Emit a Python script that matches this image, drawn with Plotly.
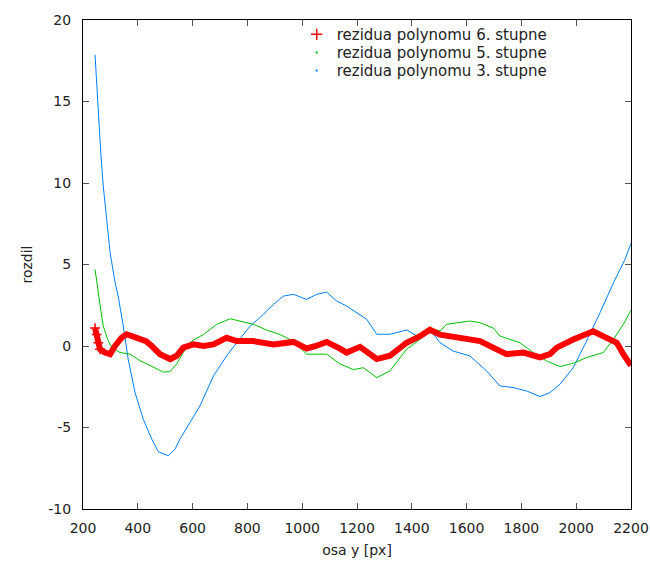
import plotly.graph_objects as go

# ---- data ----
red_x = [244, 250, 256, 262, 280, 299, 317, 340, 359, 380, 408, 430, 451, 481, 518, 542, 566, 603, 640, 676,
         724, 761, 822, 895, 968, 1016, 1050, 1089, 1138, 1162, 1211, 1240, 1272, 1320, 1381, 1430, 1466, 1503,
         1551, 1600, 1649, 1697, 1746, 1807, 1868, 1904, 1929, 1989, 2038, 2062, 2111, 2148, 2172, 2200]
red_y = [1.1, 0.7, 0.2, -0.2, -0.4, -0.5, 0.0, 0.5, 0.72, 0.6, 0.5, 0.3, 0.0, -0.5, -0.8, -0.6, -0.1, 0.1, 0.0, 0.1,
         0.5, 0.3, 0.3, 0.1, 0.25, -0.15, 0.0, 0.25, -0.16, -0.4, -0.05, -0.4, -0.8, -0.6, 0.2, 0.6, 1.0, 0.7,
         0.57, 0.4, 0.3, -0.1, -0.5, -0.4, -0.7, -0.5, -0.1, 0.4, 0.8, 0.9, 0.5, 0.2, -0.5, -1.2]

green_x = [244, 256, 265, 274, 290, 305, 335, 372, 408, 445, 493, 518, 542, 566, 597, 639, 688, 737, 773, 822,
           870, 919, 968, 1016, 1089, 1138, 1187, 1223, 1272, 1320, 1381, 1430, 1466, 1503, 1527, 1612, 1649,
           1697, 1722, 1795, 1843, 1892, 1941, 1989, 2038, 2099, 2136, 2172, 2200]
green_y = [4.7, 3.06, 2.2, 1.22, 0.4, -0.1, -0.4, -0.5, -0.9, -1.2, -1.6, -1.57, -1.1, -0.4, 0.3, 0.7, 1.33, 1.67,
           1.53, 1.33, 0.98, 0.7, 0.3, -0.5, -0.5, -1.1, -1.45, -1.33, -1.94, -1.53, -0.2, 0.41, 1.1, 0.92, 1.33,
           1.53, 1.43, 1.1, 0.61, 0.2, -0.4, -0.92, -1.26, -1.06, -0.71, -0.4, 0.41, 1.33, 2.2]

blue_x = [244, 250, 256, 265, 274, 286, 299, 317, 329, 347, 365, 390, 420, 451, 475, 511, 536, 554, 591, 627,
          676, 724, 761, 810, 858, 895, 931, 968, 1016, 1053, 1089, 1126, 1162, 1199, 1236, 1272, 1320, 1381,
          1430, 1466, 1503, 1551, 1612, 1673, 1722, 1770, 1819, 1868, 1904, 1941, 1989, 2038, 2087, 2136, 2178, 2200]
blue_y = [17.86, 15.9, 13.9, 11.84, 9.8, 7.76, 5.72, 3.9, 3.0, 1.22, -0.82, -2.86, -4.49, -5.71, -6.49, -6.73,
          -6.33, -5.71, -4.69, -3.67, -1.84, -0.61, 0.2, 1.22, 1.94, 2.55, 3.06, 3.17, 2.86, 3.17, 3.31, 2.76,
          2.45, 2.04, 1.63, 0.72, 0.72, 0.98, 0.51, 1.02, 0.2, -0.31, -0.61, -1.53, -2.45, -2.55, -2.76, -3.1,
          -2.86, -2.35, -1.33, 0.31, 2.04, 3.88, 5.31, 6.3]

names = ["rezidua polynomu 6. stupne", "rezidua polynomu 5. stupne", "rezidua polynomu 3. stupne"]
x_ticks = list(range(200, 2201, 200))
y_ticks = [-10, -5, 0, 5, 10, 15, 20]

RED, GREEN, BLUE = "#ff0000", "#00c000", "#0080ff"
FONT = "DejaVu Sans"

fig = go.Figure()
# data curves
fig.add_trace(go.Scatter(x=blue_x, y=blue_y, mode="lines", line=dict(color=BLUE, width=1),
                         showlegend=False, hoverinfo="skip"))
fig.add_trace(go.Scatter(x=green_x, y=green_y, mode="lines", line=dict(color=GREEN, width=1),
                         showlegend=False, hoverinfo="skip"))
fig.add_trace(go.Scatter(x=red_x, y=red_y, mode="lines", line=dict(color=RED, width=6),
                         showlegend=False, hoverinfo="skip"))
fig.add_trace(go.Scatter(x=red_x[:4], y=red_y[:4], mode="markers",
                         marker=dict(symbol="cross-thin", size=7, line=dict(color=RED, width=1.5)),
                         showlegend=False, hoverinfo="skip"))
# legend entries (one legend per row so the rows can be spaced like the original)
fig.add_trace(go.Scatter(x=[None], y=[None], mode="markers", name=names[0], legend="legend",
                         marker=dict(symbol="cross-thin", size=8, line=dict(color=RED, width=1.5))))
fig.add_trace(go.Scatter(x=[None], y=[None], mode="markers", name=names[1], legend="legend2",
                         marker=dict(symbol="square", size=2, color=GREEN)))
fig.add_trace(go.Scatter(x=[None], y=[None], mode="markers", name=names[2], legend="legend3",
                         marker=dict(symbol="square", size=2, color=BLUE)))

axis_common = dict(showline=True, linecolor="black", linewidth=1, mirror="allticks",
                   ticks="inside", ticklen=6, tickcolor="#555555", tickwidth=1,
                   showgrid=False, zeroline=False, automargin=False,
                   tickfont=dict(family=FONT, size=14, color="#222222"))

fig.update_xaxes(range=[200, 2200], tickvals=x_ticks, ticktext=[str(v) for v in x_ticks],
                 ticklabelstandoff=6,
                 title=dict(text="osa y [px]", font=dict(family=FONT, size=14, color="#222222"), standoff=10),
                 **axis_common)
fig.update_yaxes(range=[-10, 20], tickvals=y_ticks, ticktext=[str(v) for v in y_ticks],
                 ticklabelstandoff=8,
                 title=dict(text="rozdil", font=dict(family=FONT, size=14, color="#222222"), standoff=12),
                 **axis_common)

leg = dict(x=0.39, xanchor="left", yanchor="top", bgcolor="rgba(0,0,0,0)",
           font=dict(family=FONT, size=15, color="#222222"), itemsizing="trace")
fig.update_layout(
    width=650, height=561,
    margin=dict(l=83, r=19, t=20, b=52),
    paper_bgcolor="white", plot_bgcolor="white",
    font=dict(family=FONT, size=14, color="#222222"),
    legend=dict(y=1.004, **leg),
    legend2=dict(y=0.967, **leg),
    legend3=dict(y=0.930, **leg),
)

fig.write_html("out.html")
